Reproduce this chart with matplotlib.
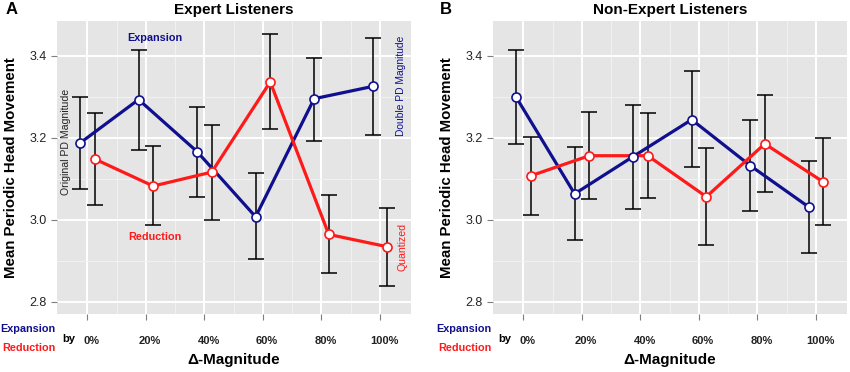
import numpy as np
import matplotlib
matplotlib.use('Agg')
from matplotlib import pyplot as plt
from matplotlib.transforms import ScaledTranslation

plt.rcParams['font.family'] = ['Liberation Sans', 'DejaVu Sans']

labels = ['0%', '20%', '40%', '60%', '80%', '100%']

# expert listeners
exp_a = [3.187, 3.293, 3.166, 3.007, 3.295, 3.325]
exp_a_lo = [3.074, 3.171, 3.056, 2.904, 3.193, 3.207]
exp_a_hi = [3.300, 3.413, 3.276, 3.113, 3.395, 3.443]
red_a = [3.148, 3.082, 3.116, 3.336, 2.964, 2.934]
red_a_lo = [3.037, 2.986, 2.999, 3.220, 2.870, 2.838]
red_a_hi = [3.260, 3.179, 3.231, 3.454, 3.061, 3.029]

# non-expert listeners
exp_b = [3.299, 3.063, 3.154, 3.244, 3.132, 3.031]
exp_b_lo = [3.185, 2.950, 3.027, 3.128, 3.022, 2.918]
exp_b_hi = [3.413, 3.177, 3.279, 3.362, 3.242, 3.144]
red_b = [3.107, 3.156, 3.156, 3.056, 3.185, 3.092]
red_b_lo = [3.012, 3.050, 3.053, 2.939, 3.067, 2.987]
red_b_hi = [3.202, 3.263, 3.261, 3.174, 3.305, 3.198]

BLUE = '#10108f'
RED = '#ff1a1a'

fig = plt.figure(figsize=(8.5, 3.72), dpi=100)
axA = fig.add_axes([0.067, 0.156, 0.4165, 0.788])
axB = fig.add_axes([0.580, 0.156, 0.4165, 0.788])


def draw(ax, exp, exp_lo, exp_hi, red, red_lo, red_hi, title):
    x = np.arange(len(labels))
    ax.set_facecolor('#e5e5e5')
    for s in ax.spines.values():
        s.set_visible(False)
    ax.set_xlim(-0.52, 5.53)
    ax.set_ylim(2.77, 3.485)
    ax.set_yticks([2.8, 3.0, 3.2, 3.4])
    ax.set_yticks([2.9, 3.1, 3.3], minor=True)
    ax.set_xticks(x)
    ax.set_xticks(x[:-1] + 0.5, minor=True)
    ax.grid(True, which='major', color='white', lw=1.4)
    ax.grid(True, which='minor', color='#f2f2f2', lw=0.7)
    ax.set_axisbelow(True)
    ax.tick_params(which='minor', length=0)
    ax.tick_params(which='major', length=4, color='#7f7f7f', labelsize=9, labelcolor='#222222')
    ax.set_xticklabels(labels, fontsize=8, fontweight='bold')
    ax.tick_params(axis='x', pad=12)
    for lab in ax.get_xticklabels():
        lab.set_transform(lab.get_transform() + ScaledTranslation(3 / 72, 0, fig.dpi_scale_trans))

    for xs, ys, lo, hi in [(x - 0.125, exp, exp_lo, exp_hi), (x + 0.125, red, red_lo, red_hi)]:
        ys = np.array(ys)
        err = [ys - np.array(lo), np.array(hi) - ys]
        ax.errorbar(xs, ys, yerr=err, fmt='none', ecolor='black', elinewidth=1.1,
                    capsize=5.5, capthick=1.1, zorder=2)
    ax.plot(x - 0.125, exp, color=BLUE, lw=2.3, zorder=3)
    ax.plot(x + 0.125, red, color=RED, lw=2.3, zorder=3)
    ax.plot(x - 0.125, exp, 'o', ms=6.5, mfc='white', mec=BLUE, mew=1.2, zorder=4)
    ax.plot(x + 0.125, red, 'o', ms=6.5, mfc='white', mec=RED, mew=1.2, zorder=4)

    ax.set_title(title, fontsize=11, fontweight='bold', pad=5)
    ax.set_ylabel('Mean Periodic Head Movement', fontsize=10.8, fontweight='bold', labelpad=8)
    ax.set_xlabel('Δ-Magnitude', fontsize=11, fontweight='bold', labelpad=5)

    tr = ax.get_xaxis_transform()
    ax.text(-0.31, -0.085, 'by', transform=tr, fontsize=8,
            fontweight='bold', ha='center', va='center', clip_on=False)
    ax.text(-0.55, -0.052, 'Expansion', transform=tr, fontsize=7.8,
            fontweight='bold', color=BLUE, ha='right', va='center', clip_on=False)
    ax.text(-0.55, -0.117, 'Reduction', transform=tr, fontsize=7.8,
            fontweight='bold', color=RED, ha='right', va='center', clip_on=False)
    return ax


draw(axA, exp_a, exp_a_lo, exp_a_hi, red_a, red_a_lo, red_a_hi, 'Expert Listeners')
draw(axB, exp_b, exp_b_lo, exp_b_hi, red_b, red_b_lo, red_b_hi, 'Non-Expert Listeners')

fig.text(0.006, 0.975, 'A', fontsize=12, fontweight='bold', va='center')
fig.text(0.518, 0.975, 'B', fontsize=12, fontweight='bold', va='center')

# annotations on panel A
axA.text(1.15, 3.442, 'Expansion', color=BLUE, fontsize=7.8, fontweight='bold', ha='center', va='center')
axA.text(1.15, 2.958, 'Reduction', color=RED, fontsize=7.8, fontweight='bold', ha='center', va='center')
axA.text(-0.37, 3.19, 'Original PD Magnitude', color='#222222', fontsize=7.6, rotation=90,
         ha='center', va='center')
axA.text(5.36, 3.326, 'Double PD Magnitude', color=BLUE, fontsize=7.4, rotation=90,
         ha='center', va='center')
axA.text(5.38, 2.933, 'Quantized', color=RED, fontsize=7.6, rotation=90,
         ha='center', va='center')

fig.savefig('out.png', dpi=100)
